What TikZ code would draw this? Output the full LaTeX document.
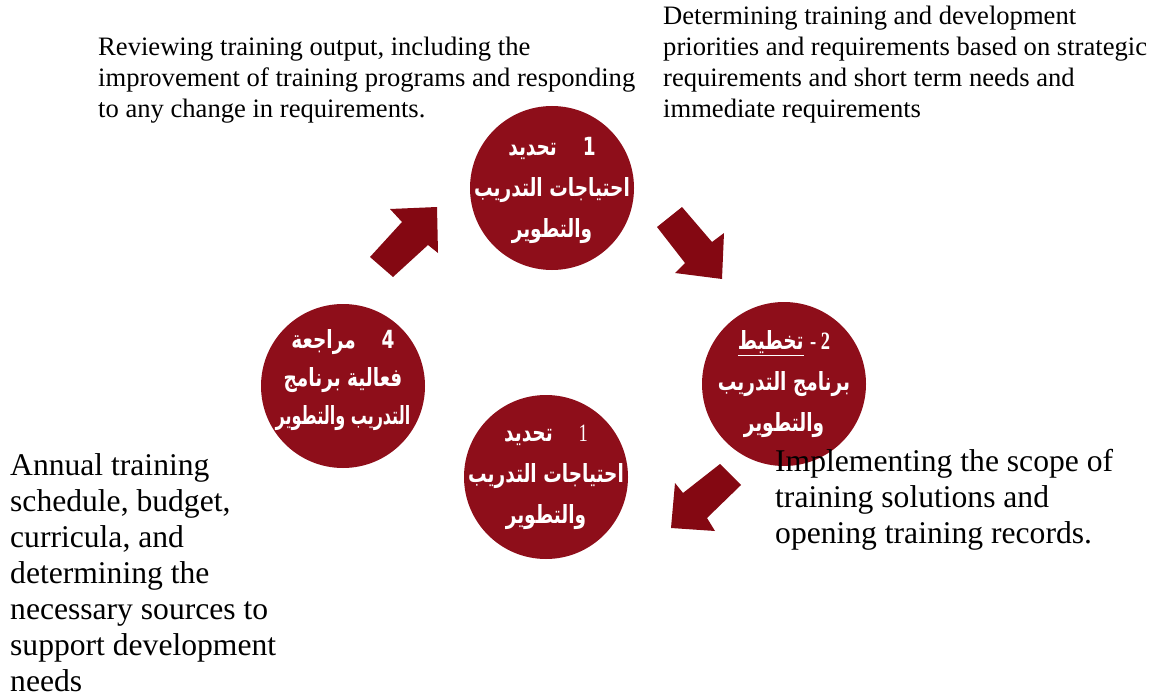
\documentclass[tikz,border=0pt]{standalone}
\usepackage{graphicx}
\usepackage{fontspec}
\setmainfont{Liberation Serif}
\newfontfamily\arabicfont[Script=Arabic]{DejaVu Sans}
\TeXXeTstate=1
\definecolor{circred}{RGB}{142,14,26}
\definecolor{arrowred}{RGB}{132,8,18}
\newcommand{\arline}[2][0.74]{\scalebox{#1}[1]{\beginR #2\endR}}
\begin{document}
\begin{tikzpicture}[x=1pt,y=-1pt,
  stage/.style={circle, fill=circred, minimum size=164pt, inner sep=0pt},
  stagetext/.style={inner sep=0pt, text=white, align=center,
    font=\arabicfont\bfseries\fontsize{25}{41}\selectfont},
  blockarrow/.style={fill=arrowred, draw=none},
  note/.style={align=left, anchor=north west, inner sep=0pt, font=\fontsize{26.6}{31}\selectfont},
  bignote/.style={align=left, anchor=north west, inner sep=0pt, font=\fontsize{31.6}{36}\selectfont}]
\useasboundingbox (0,0) rectangle (1156,698);

% stages
\node[stage] (s1) at (552,188) {};
\node[stage] (s2) at (784,384) {};
\node[stage] (s3) at (546,477) {};
\node[stage] (s4) at (343,386) {};
\node[stagetext] (l1) at ([yshift=-2pt]s1.center) {\arline{1\hspace{1.4em}تحديد}\\ \arline{احتياجات التدريب}\\ \arline{والتطوير}};
\node[stagetext] (l2) at (s2.center) {\arline{{\rmfamily 2 -} \underline{تخطيط}}\\ \arline{برنامج التدريب}\\ \arline{والتطوير}};
\node[stagetext] (l3) at (s3.center) {\arline{{\rmfamily\mdseries 1}\hspace{1.4em}تحديد}\\ \arline{احتياجات التدريب}\\ \arline{والتطوير}};
\node[stagetext, font=\arabicfont\bfseries\fontsize{25}{38}\selectfont] (l4) at ([yshift=6pt]s4.center) {\arline{4\hspace{1.4em}مراجعة}\\ \arline{فعالية برنامج}\\ \arline[0.64]{التدريب والتطوير}};

% block arrows
\fill[blockarrow] (437,207) -- (390,209) -- (402,222) -- (370,257) -- (393,277) -- (428,245) -- (438,253) -- cycle;
\fill[blockarrow] (657,227) -- (682,207) -- (712,242) -- (724,233) -- (722,279) -- (675,273) -- (685,263) -- cycle;
\fill[blockarrow] (720,464) -- (741,485) -- (707,518) -- (715,531) -- (671,528) -- (675,483) -- (683,493) -- cycle;

% texts
\node[note] (t1) at (98,37) {Reviewing training output, including the\\improvement of training programs and responding\\to any change in requirements.};
\node[note] (t2) at (663,6) {Determining training and development\\priorities and requirements based on strategic\\requirements and short term needs and\\immediate requirements};
\node[bignote] (t3) at (10,453) {Annual training\\schedule, budget,\\curricula, and\\determining the\\necessary sources to\\support development\\needs};
\node[bignote] (t4) at (775,449) {Implementing the scope of\\training solutions and\\opening training records.};
\end{tikzpicture}
\end{document}
